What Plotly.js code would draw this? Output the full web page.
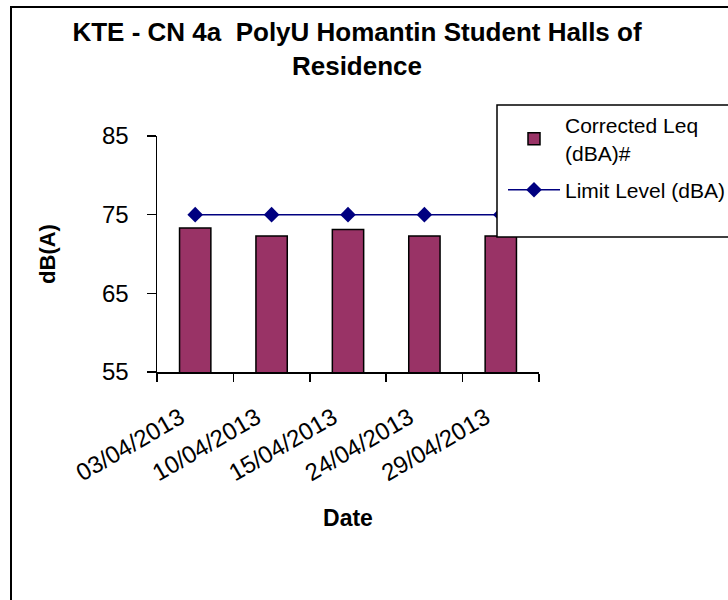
<!DOCTYPE html>
<html>
<head>
<meta charset="utf-8">
<script src="https://cdn.plot.ly/plotly-3.0.1.min.js"></script>
<style>
  html, body { margin: 0; padding: 0; background: #fff; }
  #chart { width: 728px; height: 600px; }
</style>
</head>
<body>
<div id="chart"></div>
<script>
// ---- data ----
const dates = ['03/04/2013', '10/04/2013', '15/04/2013', '24/04/2013', '29/04/2013'];
const correctedLeq = [73.3, 72.3, 73.1, 72.3, 72.3];
const limitLevel = [75, 75, 75, 75, 75];
const yTicks = [55, 65, 75, 85];

const titleText = 'KTE - CN 4a  PolyU Homantin Student Halls of<br>Residence';
const barName = 'Corrected Leq<br>(dBA)#';
const lineName = 'Limit Level (dBA)';

const FONT = '"Liberation Sans", Arial, sans-serif';

// plot area in pixels (for converting decorative frames to paper coords)
const L = 157, R = 539, T = 136, B = 372;
const px = v => (v - L) / (R - L);
const py = v => (B - v) / (B - T);

const traces = [
  {
    type: 'bar',
    x: dates,
    y: correctedLeq,
    name: barName,
    width: 0.41,
    marker: { color: '#993366', line: { color: '#000000', width: 1.5 } },
    legendgroup: 'a'
  },
  {
    type: 'scatter',
    mode: 'lines+markers',
    x: dates,
    y: limitLevel,
    name: lineName,
    line: { color: '#000080', width: 1.5 },
    marker: { symbol: 'diamond', size: 12, color: '#000080' },
    legendgroup: 'b'
  }
];

const layout = {
  width: 728,
  height: 600,
  paper_bgcolor: '#ffffff',
  plot_bgcolor: '#ffffff',
  margin: { l: L, r: 728 - R, t: T, b: 600 - B, autoexpand: false },
  showlegend: true,
  font: { family: FONT, color: '#000000', size: 23 },
  title: {
    text: titleText,
    font: { family: FONT, size: 26, color: '#000000', weight: 'bold' },
    xref: 'container', yref: 'container',
    x: 357 / 728, xanchor: 'center',
    y: 1 - 41 / 600, yanchor: 'top'
  },
  xaxis: {
    type: 'category',
    showline: true, linecolor: '#000000', linewidth: 1.5,
    ticks: 'outside', ticklen: 8, tickwidth: 1.5, tickcolor: '#000000',
    tickson: 'boundaries',
    tickangle: -30,
    tickfont: { family: FONT, size: 24, color: '#000000' },
    ticklabelstandoff: 21,
    ticklabelshift: -15,
    showgrid: false, zeroline: false,
    title: { text: 'Date', font: { family: FONT, size: 23, weight: 'bold' }, standoff: 25 },
    fixedrange: true
  },
  yaxis: {
    range: [55, 85],
    tickvals: yTicks,
    ticktext: yTicks.map(String),
    showline: true, linecolor: '#000000', linewidth: 1.5,
    ticks: 'outside', ticklen: 9, tickwidth: 1.5, tickcolor: '#000000',
    tickfont: { family: FONT, size: 24, color: '#000000' },
    ticklabelstandoff: 13,
    showgrid: false, zeroline: false,
    title: { text: 'dB(A)', font: { family: FONT, size: 22, weight: 'bold' }, standoff: 40 },
    fixedrange: true
  },
  legend: {
    x: px(503), xanchor: 'left',
    y: py(105), yanchor: 'top',
    bgcolor: 'rgba(0,0,0,0)',
    borderwidth: 0,
    font: { family: FONT, size: 21, color: '#000000' },
    itemwidth: 52,
    tracegroupgap: 7,
    traceorder: 'grouped'
  },
  shapes: [
    // outer chart frame (partly off the page, as in the reference)
    { type: 'rect', xref: 'paper', yref: 'paper', layer: 'above',
      x0: px(11), x1: px(760), y0: py(640), y1: py(7),
      line: { color: '#000000', width: 2 }, fillcolor: 'rgba(0,0,0,0)' },
    // legend box
    { type: 'rect', xref: 'paper', yref: 'paper', layer: 'above',
      x0: px(497), x1: px(760), y0: py(237), y1: py(105),
      line: { color: '#000000', width: 1.5 }, fillcolor: '#ffffff' }
  ]
};

Plotly.newPlot('chart', traces, layout, { staticPlot: true, displayModeBar: false });
</script>
</body>
</html>
